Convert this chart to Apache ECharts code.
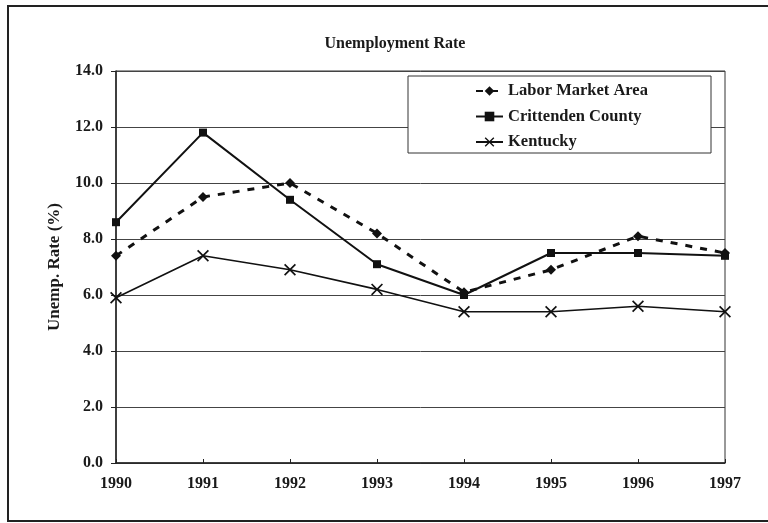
<!DOCTYPE html>
<html>
<head>
<meta charset="utf-8">
<script src="https://cdn.jsdelivr.net/npm/echarts@6/dist/echarts.min.js"></script>
<style>html,body{margin:0;padding:0;background:#fff;}#c{width:768px;height:523px;}</style>
</head>
<body>
<div id="c"></div>
<script>
const years = ['1990','1991','1992','1993','1994','1995','1996','1997'];
const laborMarketArea = [7.4, 9.5, 10.0, 8.2, 6.1, 6.9, 8.1, 7.5];
const crittendenCounty = [8.6, 11.8, 9.4, 7.1, 6.0, 7.5, 7.5, 7.4];
const kentucky = [5.9, 7.4, 6.9, 6.2, 5.4, 5.4, 5.6, 5.4];
const yTicks = [0, 2, 4, 6, 8, 10, 12, 14];

const FONT = '"Liberation Serif", "Times New Roman", serif';
const INK = '#1a1a1a';
const xSymbol = 'path://M0,1 L1,0 L5,4 L9,0 L10,1 L6,5 L10,9 L9,10 L5,6 L1,10 L0,9 L4,5 Z';

const chart = echarts.init(document.getElementById('c'), null, {renderer: 'canvas'});
chart.setOption({
  backgroundColor: '#fff',
  animation: false,
  title: {
    text: 'Unemployment Rate',
    left: 390, top: 31, textAlign: 'center',
    textStyle: {fontFamily: FONT, fontSize: 16, fontWeight: 'bold', color: INK}
  },
  graphic: [
    {type: 'rect', shape: {x: 8, y: 6, width: 800, height: 515}, style: {fill: 'none', stroke: '#222', lineWidth: 2}, silent: true},
    {type: 'rect', shape: {x: 408, y: 76, width: 303, height: 77}, style: {fill: '#fff', stroke: '#333', lineWidth: 1}, z: 90, silent: true}
  ],
  legend: {
    orient: 'vertical',
    left: 470, top: 77,
    itemWidth: 27, itemHeight: 12,
    itemGap: 7.5,
    z: 100,
    textStyle: {fontFamily: FONT, fontSize: 16.5, fontWeight: 'bold', color: INK, lineHeight: 18},
    data: ['Labor Market Area', 'Crittenden County', 'Kentucky']
  },
  grid: {left: 116, right: 43, top: 71, bottom: 60, show: true, borderColor: '#333', borderWidth: 1},
  xAxis: {
    type: 'category',
    data: years,
    boundaryGap: false,
    axisLine: {lineStyle: {color: '#222', width: 1.5}},
    axisTick: {inside: true, length: 4, lineStyle: {color: '#222'}},
    axisLabel: {fontFamily: FONT, fontSize: 16, fontWeight: 'bold', color: INK, margin: 13},
    splitLine: {show: false}
  },
  yAxis: {
    type: 'value',
    min: yTicks[0], max: yTicks[yTicks.length - 1], interval: 2,
    name: 'Unemp. Rate (%)',
    nameLocation: 'middle',
    nameGap: 53,
    nameTextStyle: {fontFamily: FONT, fontSize: 17, fontWeight: 'bold', color: INK},
    axisLine: {show: true, lineStyle: {color: '#222', width: 1.5}},
    axisTick: {show: true, length: 5, lineStyle: {color: '#222'}},
    axisLabel: {fontFamily: FONT, fontSize: 16, fontWeight: 'bold', color: INK, margin: 13,
      formatter: v => v.toFixed(1)},
    splitLine: {lineStyle: {color: '#444', width: 1}}
  },
  series: [
    {
      name: 'Labor Market Area', type: 'line', data: laborMarketArea,
      symbol: 'diamond', symbolSize: 10,
      lineStyle: {color: '#111', width: 3, type: [7, 8]},
      itemStyle: {color: '#111'}
    },
    {
      name: 'Crittenden County', type: 'line', data: crittendenCounty,
      symbol: 'rect', symbolSize: 8,
      lineStyle: {color: '#111', width: 2},
      itemStyle: {color: '#111'}
    },
    {
      name: 'Kentucky', type: 'line', data: kentucky,
      symbol: xSymbol, symbolSize: 12,
      lineStyle: {color: '#111', width: 1.6},
      itemStyle: {color: '#111'}
    }
  ]
});
</script>
</body>
</html>
